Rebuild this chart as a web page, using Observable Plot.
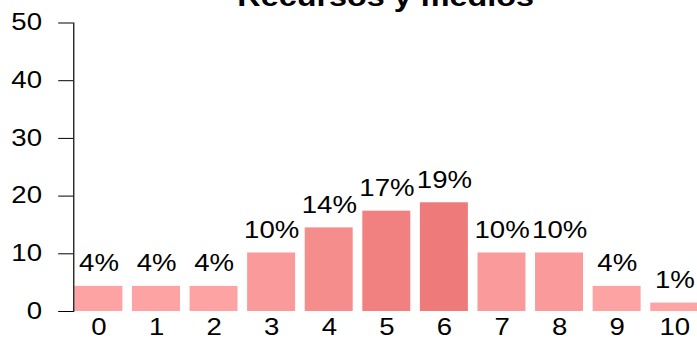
<!DOCTYPE html>
<html>
<head>
<meta charset="utf-8">
<script src="https://cdn.jsdelivr.net/npm/d3@7"></script>
<script src="https://cdn.jsdelivr.net/npm/@observablehq/plot@0.6"></script>
<style>
  html, body { margin: 0; padding: 0; background: white; }
  #chart svg { display: block; }
</style>
</head>
<body>
<div id="chart"></div>
<script>
const title = "Recursos y medios";
const categories = ["0", "1", "2", "3", "4", "5", "6", "7", "8", "9", "10"];
const percents = [4.35, 4.35, 4.35, 10.14, 14.49, 17.39, 18.84, 10.14, 10.14, 4.35, 1.45];
const labels = ["4%", "4%", "4%", "10%", "14%", "17%", "19%", "10%", "10%", "4%", "1%"];
const yTicks = [0, 10, 20, 30, 40, 50];

const data = categories.map((c, i) => ({cat: c, pct: percents[i], label: labels[i]}));

const W = 581, H = 339;
const FS = 23;

const svg = Plot.plot({
  width: W,
  height: H,
  marginLeft: 61,
  marginRight: 0,
  marginTop: 22.5,
  marginBottom: 28,
  style: {fontFamily: "'Liberation Sans', Arial, sans-serif", fontSize: FS + "px", color: "black", background: "white"},
  x: {type: "band", domain: categories, range: [61.7, 582.3], paddingInner: 0.168, paddingOuter: 0, align: 0, label: null},
  y: {domain: [0, 50], label: null},
  color: {type: "pow", exponent: 2.3, domain: [1.45, 18.84], range: ["#ffa4a4", "#ee7a7a"], interpolate: "rgb"},
  marks: [
    Plot.barY(data, {x: "cat", y: "pct", fill: "pct"}),
    Plot.text(data, {x: "cat", y: "pct", text: "label", lineAnchor: "bottom", dy: -15, fontSize: FS, fill: "black"}),
    Plot.axisY({ticks: yTicks, tickSize: 12.5, tickPadding: 14, fontSize: FS, label: null}),
    Plot.axisX({tickSize: 0, tickPadding: 7.5, fontSize: FS, label: null}),
    Plot.frame({anchor: "left", stroke: "black"}),
    Plot.text([title], {frameAnchor: "top", text: d => d, lineAnchor: "bottom", dy: 5.3 - 22.5, fontWeight: "bold", fontSize: 27, fill: "black"})
  ]
});

svg.setAttribute("viewBox", `0 0 ${W} ${H}`);
svg.setAttribute("preserveAspectRatio", "none");
svg.setAttribute("width", 697);
svg.setAttribute("height", H);
svg.style.maxWidth = "none";
svg.style.width = "697px";
svg.style.height = H + "px";
document.getElementById("chart").appendChild(svg);
</script>
</body>
</html>
